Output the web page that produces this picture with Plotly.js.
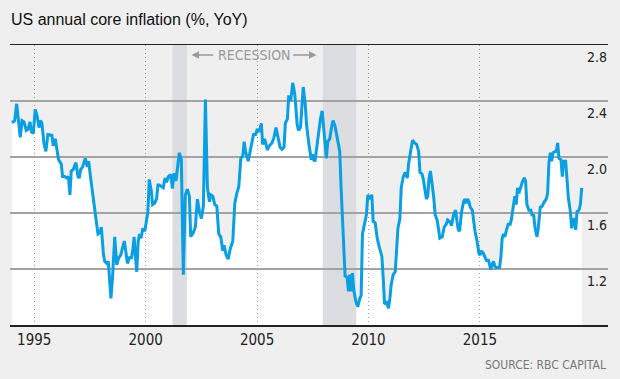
<!DOCTYPE html>
<html>
<head>
<meta charset="utf-8">
<script src="https://cdn.plot.ly/plotly-3.0.1.min.js"></script>
<style>html,body{margin:0;padding:0;background:#efefef;}#chart{width:620px;height:379px;}</style>
</head>
<body>
<div id="chart"></div>
<script>
// ---- data (decimal years, % YoY) ----
const years = [
1994.00,1994.12,1994.21,1994.30,1994.37,1994.45,1994.54,1994.64,1994.72,1994.81,1994.87,1994.96,
1995.04,1995.13,1995.21,1995.27,1995.34,1995.43,1995.52,1995.61,1995.70,1995.79,1995.85,1995.94,
1996.03,1996.09,1996.21,1996.27,1996.36,1996.45,1996.53,1996.60,1996.66,1996.75,1996.87,1996.96,
1997.02,1997.08,1997.17,1997.29,1997.38,1997.44,1997.53,1997.62,1997.71,1997.80,1997.86,1997.95,
1998.01,1998.10,1998.16,1998.25,1998.32,1998.38,1998.44,1998.52,1998.61,1998.70,1998.79,1998.88,1998.97,
1999.04,1999.12,1999.18,1999.27,1999.36,1999.42,1999.48,1999.54,1999.60,1999.66,1999.72,1999.79,1999.87,1999.96,
2000.01,2000.10,2000.16,2000.25,2000.31,2000.40,2000.49,2000.55,2000.61,2000.72,2000.79,2000.87,2000.94,
2001.02,2001.12,2001.20,2001.27,2001.36,2001.45,2001.51,2001.60,2001.69,2001.78,2001.87,2001.96,
2002.02,2002.14,2002.23,2002.32,2002.41,2002.50,2002.59,2002.68,2002.77,2002.86,2002.92,
2003.01,2003.10,2003.19,2003.28,2003.37,2003.46,2003.52,2003.61,2003.70,2003.79,2003.91,
2004.00,2004.09,2004.18,2004.27,2004.36,2004.42,2004.48,2004.60,2004.69,2004.78,2004.84,2004.93,
2005.01,2005.10,2005.19,2005.25,2005.34,2005.46,2005.55,2005.67,2005.76,2005.85,2005.94,
2006.03,2006.12,2006.21,2006.27,2006.36,2006.42,2006.51,2006.60,2006.69,2006.80,2006.86,2006.95,
2007.01,2007.07,2007.16,2007.22,2007.31,2007.37,2007.43,2007.49,2007.54,2007.60,2007.69,2007.75,2007.84,2007.92,2007.99,
2008.05,2008.11,2008.17,2008.26,2008.35,2008.41,2008.50,2008.56,2008.65,2008.71,2008.77,2008.83,2008.89,2008.95,
2009.04,2009.10,2009.16,2009.22,2009.28,2009.34,2009.43,2009.52,2009.61,2009.67,2009.73,2009.82,2009.91,2009.97,
2010.06,2010.15,2010.21,2010.30,2010.39,2010.48,2010.60,2010.66,2010.72,2010.81,2010.90,2010.96,
2011.02,2011.11,2011.20,2011.26,2011.32,2011.41,2011.47,2011.56,2011.65,2011.74,2011.80,2011.89,2011.98,
2012.07,2012.16,2012.25,2012.31,2012.40,2012.46,2012.54,2012.60,2012.66,2012.72,2012.78,2012.87,2012.93,2012.99,
2013.08,2013.14,2013.20,2013.31,2013.40,2013.49,2013.55,2013.64,2013.73,2013.82,2013.91,2013.97,
2014.03,2014.09,2014.18,2014.27,2014.33,2014.39,2014.45,2014.51,2014.57,2014.66,2014.72,2014.78,2014.87,2014.96,
2015.01,2015.07,2015.16,2015.25,2015.31,2015.37,2015.43,2015.49,2015.55,2015.61,2015.67,2015.73,2015.79,2015.88,2015.94,
2016.00,2016.06,2016.12,2016.18,2016.27,2016.36,2016.42,2016.51,2016.57,2016.63,2016.69,2016.75,2016.81,2016.90,2016.99,
2017.05,2017.11,2017.20,2017.29,2017.35,2017.41,2017.47,2017.56,2017.62,2017.71,2017.80,2017.89,2017.98,
2018.04,2018.10,2018.16,2018.22,2018.28,2018.37,2018.43,2018.49,2018.55,2018.64,2018.70,2018.76,2018.85,2018.91,2018.97,
2019.06,2019.12,2019.18,2019.24,2019.30,2019.36,2019.45,2019.51,2019.57
];
const coreInflation = [
2.245,2.26,2.38,2.26,2.14,2.26,2.25,2.19,2.20,2.25,2.18,2.17,
2.34,2.29,2.21,2.26,2.245,2.10,2.04,2.16,2.155,2.155,2.08,2.13,
2.04,1.98,1.95,1.86,1.86,1.85,1.86,1.73,1.90,1.91,1.96,1.86,
1.85,1.91,1.93,1.99,1.93,1.97,1.85,1.73,1.60,1.52,1.45,1.46,
1.50,1.31,1.255,1.24,1.255,1.13,0.99,1.16,1.43,1.23,1.28,1.30,1.37,
1.40,1.31,1.24,1.28,1.28,1.33,1.43,1.29,1.18,1.39,1.45,1.42,1.49,1.47,
1.52,1.61,1.84,1.76,1.66,1.67,1.70,1.80,1.80,1.79,1.78,1.85,1.82,
1.86,1.875,1.775,1.885,1.83,1.98,2.03,1.98,1.16,1.73,1.77,1.72,
1.43,1.46,1.50,1.70,1.61,1.56,1.65,2.41,1.78,1.68,1.73,
1.72,1.66,1.65,1.45,1.43,1.33,1.37,1.30,1.27,1.34,1.40,
1.67,1.74,1.79,1.99,2.01,2.11,2.04,1.97,2.04,2.09,2.16,2.16,
2.20,2.18,2.24,2.09,2.13,2.05,2.08,2.10,2.14,2.21,2.15,
2.07,2.055,2.07,2.245,2.27,2.44,2.40,2.53,2.45,2.23,2.19,2.21,
2.38,2.50,2.38,2.23,2.11,2.04,1.98,2.02,1.98,1.97,2.09,2.14,2.27,2.33,2.21,
2.05,1.99,2.11,2.13,2.22,2.26,2.22,2.17,2.09,2.04,1.78,1.56,1.37,1.15,
1.14,1.04,1.16,1.04,1.17,1.05,0.97,0.93,0.99,1.01,1.45,1.52,1.59,1.73,
1.70,1.73,1.54,1.53,1.42,1.36,1.29,1.14,0.95,0.96,0.92,0.99,
1.09,1.16,1.18,1.33,1.49,1.56,1.78,1.86,1.89,1.85,1.95,2.04,2.12,
2.10,2.09,2.04,1.89,1.88,1.84,1.76,1.70,1.72,1.85,1.90,1.80,1.71,1.59,
1.55,1.49,1.42,1.43,1.50,1.52,1.55,1.54,1.51,1.59,1.62,1.54,
1.48,1.47,1.61,1.68,1.70,1.67,1.70,1.68,1.64,1.62,1.54,1.47,1.40,1.31,
1.30,1.33,1.31,1.28,1.255,1.27,1.23,1.195,1.23,1.255,1.22,1.21,1.21,1.21,1.28,
1.42,1.45,1.43,1.47,1.52,1.52,1.56,1.66,1.72,1.66,1.78,1.74,1.78,1.82,1.85,
1.83,1.66,1.62,1.62,1.58,1.59,1.50,1.43,1.49,1.64,1.65,1.68,1.70,
1.74,1.96,2.03,1.97,2.03,2.04,2.04,2.10,1.99,1.98,1.86,1.97,1.97,1.83,1.71,
1.61,1.49,1.56,1.55,1.48,1.61,1.62,1.66,1.78
];
const recessionStart = [2001.2, 2007.95];
const recessionEnd   = [2001.85, 2009.45];
const xTickVals = [1995, 2000, 2005, 2010, 2015];
const xTickText = ['1995', '2000', '2005', '2010', '2015'];
const yTickVals = [2.8, 2.4, 2.0, 1.6, 1.2];
const yTickText = ['2.8', '2.4', '2.0', '1.6', '1.2'];
const yGridVals = [1.2, 1.6, 2.0, 2.4];

const xRange = [1993.91, 2020.75];
const yRange = [0.8, 2.8];
const NARROW = '"Liberation Sans Narrow", "Arial Narrow", "DejaVu Sans Condensed", sans-serif';
const REG = '"Liberation Sans", Arial, sans-serif';

const traces = [
  { // white area under the line
    x: years, y: coreInflation, xaxis: 'x', yaxis: 'y', type: 'scatter', mode: 'lines',
    fill: 'tozeroy', fillcolor: '#ffffff', line: {width: 0, color: '#ffffff'}, hoverinfo: 'skip'
  },
  {
    x: years, y: coreInflation, xaxis: 'x2', yaxis: 'y2', type: 'scatter', mode: 'lines',
    line: {color: '#0a9fe2', width: 3}
  }
];

const shapes = recessionStart.map((s, i) => ({
  type: 'rect', xref: 'x2', yref: 'y2', x0: s, x1: recessionEnd[i], y0: yRange[0], y1: yRange[1],
  fillcolor: '#dcdde0', line: {width: 0}, layer: 'below'
}));

const labelY = 2.729;
const annotations = yTickVals.map((v, i) => ({
  xref: 'paper', x: 1, xanchor: 'right', xshift: 1, yref: 'y2', y: v, yanchor: 'middle', yshift: -12,
  text: yTickText[i], showarrow: false, font: {family: NARROW, size: 14, color: '#222'}
}));
annotations.push(
  {xref: 'x2', yref: 'y2', x: 2004.88, y: labelY, text: 'RECESSION', showarrow: false,
   font: {family: NARROW, size: 14, color: '#9a9a9a'}},
  {xref: 'x2', yref: 'y2', x: 2002.06, y: labelY, axref: 'x2', ayref: 'y2', ax: 2003.10, ay: labelY,
   text: '', showarrow: true, arrowhead: 2, arrowsize: 1, arrowwidth: 1.5, arrowcolor: '#9a9a9a', standoff: 0},
  {xref: 'x2', yref: 'y2', x: 2007.67, y: labelY, axref: 'x2', ayref: 'y2', ax: 2006.55, ay: labelY,
   text: '', showarrow: true, arrowhead: 2, arrowsize: 1, arrowwidth: 1.5, arrowcolor: '#9a9a9a', standoff: 0},
  {xref: 'paper', yref: 'paper', x: 1, y: 0, xanchor: 'right', yanchor: 'middle', yshift: -40,
   text: 'SOURCE: RBC CAPITAL', showarrow: false, font: {family: NARROW, size: 12, color: '#777'}}
);

const layout = {
  width: 620, height: 379,
  margin: {l: 10, r: 12, t: 45, b: 54, pad: 0},
  paper_bgcolor: '#efefef', plot_bgcolor: 'rgba(0,0,0,0)',
  showlegend: false,
  title: {text: 'US annual core inflation (%, YoY)', xref: 'container', yref: 'container',
          x: 11/620, xanchor: 'left', y: 1 - 19/379, yanchor: 'middle',
          font: {family: REG, size: 16, color: '#111'}},
  xaxis: {domain: [0, 1], range: xRange, visible: false, fixedrange: true},
  yaxis: {domain: [0, 1], range: yRange, visible: false, fixedrange: true},
  xaxis2: {anchor: 'y2', domain: [0, 1], range: xRange, tickmode: 'array', tickvals: xTickVals, ticktext: xTickText,
           showgrid: true, gridcolor: '#999', griddash: '1px,3px', gridwidth: 1,
           showline: true, linecolor: '#222', linewidth: 1.5, mirror: true, ticks: '', zeroline: false,
           tickfont: {family: NARROW, size: 15, color: '#222'}, fixedrange: true},
  yaxis2: {anchor: 'x2', domain: [0, 1], range: yRange, tickmode: 'array', tickvals: yGridVals,
           showticklabels: false, showgrid: true, gridcolor: '#a3a3a3', gridwidth: 1.2,
           zeroline: false, showline: false, ticks: '', fixedrange: true},
  shapes: shapes,
  annotations: annotations
};

Plotly.newPlot('chart', traces, layout, {displayModeBar: false, staticPlot: true});
</script>
</body>
</html>
